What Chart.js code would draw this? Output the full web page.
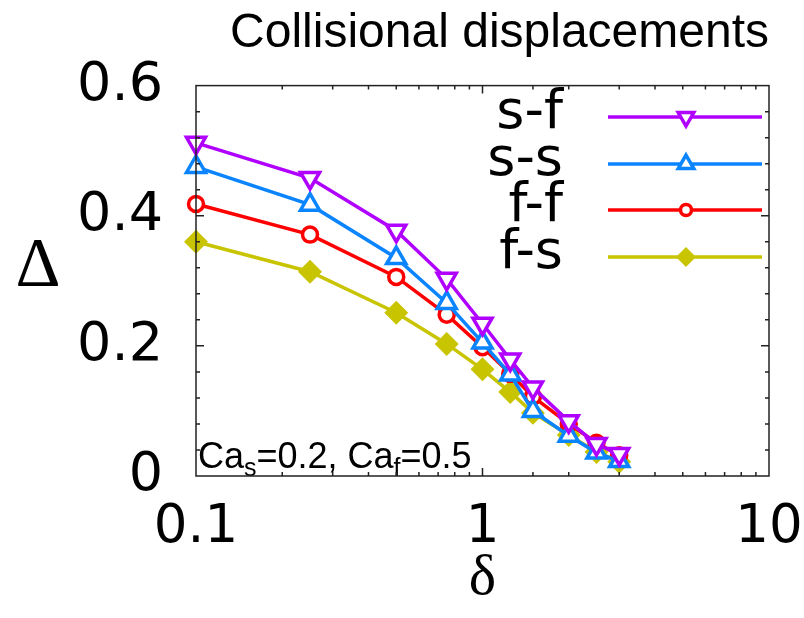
<!DOCTYPE html>
<html>
<head>
<meta charset="utf-8">
<script src="https://cdn.jsdelivr.net/npm/chart.js@4.4.0/dist/chart.umd.min.js"></script>
<style>
  html, body { margin: 0; padding: 0; background: #fff; }
</style>
</head>
<body>
<canvas id="chart" width="804" height="618"></canvas>
<script>
// data
const deltaValues = [0.1, 0.25, 0.5, 0.75, 1, 1.25, 1.5, 2, 2.5, 3];
const seriesNames = ["s-f", "s-s", "f-f", "f-s"];
const sfValues = [0.512, 0.458, 0.377, 0.303, 0.234, 0.179, 0.136, 0.084, 0.049, 0.034];
const ssValues = [0.475, 0.417, 0.335, 0.266, 0.205, 0.156, 0.100, 0.062, 0.036, 0.023];
const ffValues = [0.418, 0.371, 0.306, 0.248, 0.198, 0.157, 0.122, 0.080, 0.051, 0.032];
const fsValues = [0.360, 0.314, 0.251, 0.203, 0.164, 0.129, 0.097, 0.063, 0.037, 0.022];
const xTickLabels = [0.1, 1, 10];
const yTickLabels = [0, 0.2, 0.4, 0.6];
const yMinorStep = 0.04;

const colors = ["#b000ff", "#0a84ff", "#ff0000", "#c8c400"];
const styles = [
  { pointStyle: "triangle", rotation: 180, radius: 11, fill: "#fff" },
  { pointStyle: "triangle", rotation: 0, radius: 11, fill: "#fff" },
  { pointStyle: "circle", rotation: 0, radius: 7.5, fill: "#fff" },
  { pointStyle: "rectRot", rotation: 0, radius: 9.5, fill: null }
];
const allValues = [sfValues, ssValues, ffValues, fsValues];

function makeDataset(i) {
  const st = styles[i];
  return {
    label: seriesNames[i],
    data: deltaValues.map((x, k) => ({ x: x, y: allValues[i][k] })),
    borderColor: colors[i],
    backgroundColor: colors[i],
    borderWidth: 3.5,
    pointStyle: st.pointStyle,
    pointRotation: st.rotation,
    pointRadius: st.radius,
    pointBorderWidth: 3.5,
    pointBackgroundColor: st.fill || colors[i],
    pointBorderColor: colors[i],
    clip: false,
    tension: 0
  };
}

// frame, inside ticks, legend, labels
const decorPlugin = {
  id: "decor",
  afterDatasetsDraw(chart) {
    const ctx = chart.ctx;
    const a = chart.chartArea;
    const xs = chart.scales.x;
    const ys = chart.scales.y;
    ctx.save();

    // legend (right aligned names, line sample on the right)
    const rowY = [117, 164, 210, 257];
    for (let i = 0; i < seriesNames.length; i++) {
      const y = rowY[i];
      ctx.fillStyle = "#000";
      ctx.font = "54px 'DejaVu Sans', sans-serif";
      ctx.textAlign = "right";
      ctx.textBaseline = "middle";
      ctx.fillText(seriesNames[i], 563, y - 3);
      ctx.strokeStyle = colors[i];
      ctx.lineWidth = 3.5;
      ctx.beginPath();
      ctx.moveTo(608, y);
      ctx.lineTo(762, y);
      ctx.stroke();
      const st = styles[i];
      ctx.fillStyle = st.fill || colors[i];
      ctx.lineWidth = 3.5;
      Chart.helpers.drawPoint(ctx, {
        pointStyle: st.pointStyle, rotation: st.rotation,
        radius: st.radius - 2, borderWidth: 3.5
      }, 686, y);
    }

    // annotation
    ctx.fillStyle = "#000";
    ctx.textAlign = "left";
    ctx.textBaseline = "alphabetic";
    let x = a.left + 2;
    const base = 468;
    const parts = [["Ca", 0], ["s", 1], ["=0.2, Ca", 0], ["f", 1], ["=0.5", 0]];
    for (const [t, sub] of parts) {
      ctx.font = (sub ? "25px" : "36px") + " 'Liberation Sans', Arial, sans-serif";
      ctx.fillText(t, x, base + (sub ? 8 : 0));
      x += ctx.measureText(t).width;
    }

    // y-axis symbol
    ctx.font = "70px 'Liberation Serif', serif";
    ctx.textAlign = "center";
    ctx.textBaseline = "middle";
    ctx.fillText("\u0394", 38, 268);

    // ticks
    ctx.strokeStyle = "#222";
    ctx.lineWidth = 1.5;
    ctx.beginPath();
    for (const t of xs.ticks) {
      const px = xs.getPixelForValue(t.value);
      if (px <= a.left + 1 || px >= a.right - 1) continue;
      const lg = Math.log10(t.value);
      const len = Math.abs(lg - Math.round(lg)) < 1e-6 ? 8 : 4;
      ctx.moveTo(px, a.bottom); ctx.lineTo(px, a.bottom - len);
      ctx.moveTo(px, a.top); ctx.lineTo(px, a.top + len);
    }
    for (let v = yMinorStep; v < 0.6 - 1e-6; v += yMinorStep) {
      const py = ys.getPixelForValue(v);
      const major = Math.abs(v / 0.2 - Math.round(v / 0.2)) < 1e-6;
      const len = major ? 8 : 4;
      ctx.moveTo(a.left, py); ctx.lineTo(a.left + len, py);
      ctx.moveTo(a.right, py); ctx.lineTo(a.right - len, py);
    }
    ctx.stroke();

    // frame
    ctx.lineWidth = 1.5;
    ctx.strokeStyle = "#222";
    ctx.strokeRect(a.left, a.top, a.right - a.left, a.bottom - a.top);
    ctx.restore();
  }
};

new Chart(document.getElementById("chart"), {
  type: "line",
  data: { datasets: [0, 1, 2, 3].map(makeDataset) },
  options: {
    responsive: false,
    animation: false,
    layout: { padding: { left: 0, right: 35, top: 0, bottom: 0 } },
    plugins: {
      legend: { display: false },
      tooltip: { enabled: false },
      title: {
        display: true,
        text: "Collisional displacements",
        align: "end",
        color: "#000",
        font: { family: "'Liberation Sans', Arial, sans-serif", size: 48, weight: "normal", lineHeight: 1.2 },
        padding: { top: 5, bottom: 23 }
      }
    },
    scales: {
      x: {
        type: "logarithmic",
        min: 0.1,
        max: 10,
        grid: { display: false, drawTicks: false },
        border: { display: false },
        afterFit(scale) {
          scale.height = 142;
          scale.paddingLeft = 0;
          scale.paddingRight = 0;
        },
        ticks: {
          autoSkip: false,
          maxRotation: 0,
          padding: 20,
          color: "#000",
          font: { family: "'DejaVu Sans', sans-serif", size: 53 },
          callback(v) {
            return xTickLabels.some(t => Math.abs(t - v) < 1e-9) ? String(v) : "";
          }
        },
        title: {
          display: true,
          text: "\u03b4",
          color: "#000",
          font: { family: "'Liberation Serif', serif", size: 58 },
          padding: { top: 0, bottom: 4 }
        }
      },
      y: {
        min: 0,
        max: 0.6,
        grid: { display: false, drawTicks: false },
        border: { display: false },
        afterFit(scale) { scale.width = 196; },
        afterBuildTicks(scale) {
          scale.ticks = yTickLabels.map(v => ({ value: v }));
        },
        ticks: {
          padding: 33,
          color: "#000",
          font: { family: "'DejaVu Sans', sans-serif", size: 54 },
          callback(v) { return String(+v.toFixed(2)); }
        }
      }
    }
  },
  plugins: [decorPlugin]
});
</script>
</body>
</html>
